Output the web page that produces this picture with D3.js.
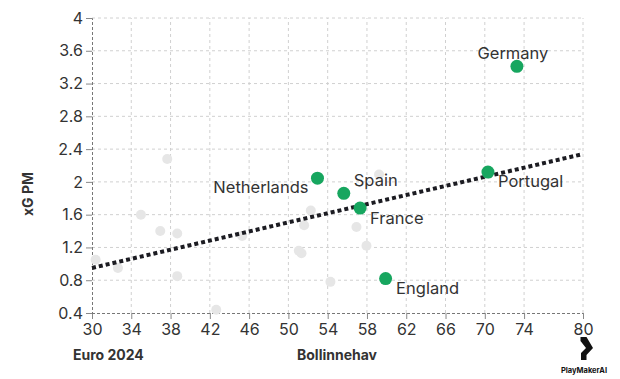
<!DOCTYPE html>
<html><head><meta charset="utf-8">
<script src="https://cdn.jsdelivr.net/npm/d3@7"></script>
<style>
body{margin:0;background:#fff;}
svg{display:block;font-family:Inter, "Open Sans", sans-serif;}
</style></head>
<body><svg id="c" width="620" height="379"></svg>
<script>
const xTicks = [30,34,38,42,46,50,54,58,62,66,70,74,80];
const yTicks = [0.4,0.8,1.2,1.6,2,2.4,2.8,3.2,3.6,4];
const otherX = [37.66,34.98,36.95,38.68,30.37,32.64,38.68,42.65,45.29,59.23,52.28,51.6,51.06,51.33,54.28,56.93,57.95];
const otherY = [2.28,1.6,1.4,1.37,1.05,0.95,0.85,0.44,1.34,2.09,1.65,1.47,1.16,1.13,0.78,1.45,1.22];
const teams = ["Netherlands","Spain","France","England","Germany","Portugal"];
const teamX = [52.96,55.64,57.3,59.9,73.27,70.32];
const teamY = [2.045,1.86,1.68,0.82,3.41,2.12];
const trendX = [30,80];
const trendY = [0.95,2.34];

const svg = d3.select("#c");
const x = d3.scaleLinear().domain([30,80]).range([92,583]);
const y = d3.scaleLinear().domain([0.4,4]).range([313,18]);

// grid
const g = svg.append("g");
g.selectAll(".vg").data(xTicks.slice(1)).enter().append("line")
  .attr("x1",d=>x(d)).attr("x2",d=>x(d)).attr("y1",y(0.4)).attr("y2",y(4))
  .attr("stroke","#d0d0d0").attr("stroke-dasharray","3,3").attr("stroke-width",1);
g.selectAll(".hg").data(yTicks.slice(1)).enter().append("line")
  .attr("x1",x(30)).attr("x2",x(80)).attr("y1",d=>y(d)).attr("y2",d=>y(d))
  .attr("stroke","#d0d0d0").attr("stroke-dasharray","3,3").attr("stroke-width",1);

// axes
const xAxis = d3.axisBottom(x).tickValues(xTicks).tickSize(6).tickFormat(d3.format("d"));
const yAxis = d3.axisLeft(y).tickValues(yTicks).tickSize(6).tickFormat(d=>String(+d.toFixed(1)));
const ax = svg.append("g").attr("transform",`translate(0,${y(0.4)})`).call(xAxis);
const ay = svg.append("g").attr("transform",`translate(${x(30)},0)`).call(yAxis);
[ax,ay].forEach(a=>{
  a.select(".domain").attr("stroke","#777").attr("stroke-dasharray","3,2");
  a.selectAll(".tick line").attr("stroke","#888");
  a.selectAll(".tick text").attr("fill","#333").style("font-size","16px").style("font-family","Inter, sans-serif");
});
ax.selectAll(".tick text").attr("dy","0.95em").attr("y",7);
ay.selectAll(".tick text").attr("x",-9);

// other points
svg.append("g").selectAll("circle").data(otherX).enter().append("circle")
  .attr("cx",d=>x(d)).attr("cy",(d,i)=>y(otherY[i])).attr("r",5)
  .attr("fill","#e6e6e6");

// trend line
const line = d3.line().x(d=>x(d[0])).y(d=>y(d[1]));
svg.append("path").datum(trendX.map((d,i)=>[d,trendY[i]]))
  .attr("d",line).attr("stroke","#1c1c22").attr("stroke-width",4)
  .attr("stroke-dasharray","4,3").attr("fill","none");

// team points
svg.append("g").selectAll("circle").data(teamX).enter().append("circle")
  .attr("cx",d=>x(d)).attr("cy",(d,i)=>y(teamY[i])).attr("r",6.5)
  .attr("fill","#17a65f");

// labels
const lab = {Netherlands:[-9,15,"end"],Spain:[10,-7.5,"start"],France:[10,16,"start"],England:[10.5,15.5,"start"],Germany:[-4,-7.5,"middle"],Portugal:[10,15,"start"]};
svg.append("g").selectAll("text").data(teams).enter().append("text")
  .attr("x",(d,i)=>x(teamX[i])+lab[d][0]).attr("y",(d,i)=>y(teamY[i])+lab[d][1])
  .attr("text-anchor",d=>lab[d][2]).attr("fill","#333").style("font-size","16.5px")
  .text(d=>d);

// titles
svg.append("text").attr("transform",`translate(33,194) rotate(-90)`).attr("text-anchor","middle")
  .attr("fill","#333").style("font-size","14px").style("font-weight","bold").text("xG PM");
svg.append("text").attr("x",73).attr("y",360).attr("fill","#333")
  .style("font-size","14px").style("font-weight","bold").text("Euro 2024");
svg.append("text").attr("x",337).attr("y",360).attr("text-anchor","middle").attr("fill","#333")
  .style("font-size","14px").style("font-weight","bold").text("Bollinnehav");

// logo
svg.append("path").attr("d","M580.5,337 L586.5,337 L593,348 L586.5,355 L586.5,360 L581,360 L581,353 L586,348 L580.5,341 Z").attr("fill","#111");
svg.append("text").attr("x",584).attr("y",373).attr("text-anchor","middle").attr("fill","#111")
  .style("font-size","7.5px").style("font-weight","bold").text("PlayMakerAI");
</script></body></html>
